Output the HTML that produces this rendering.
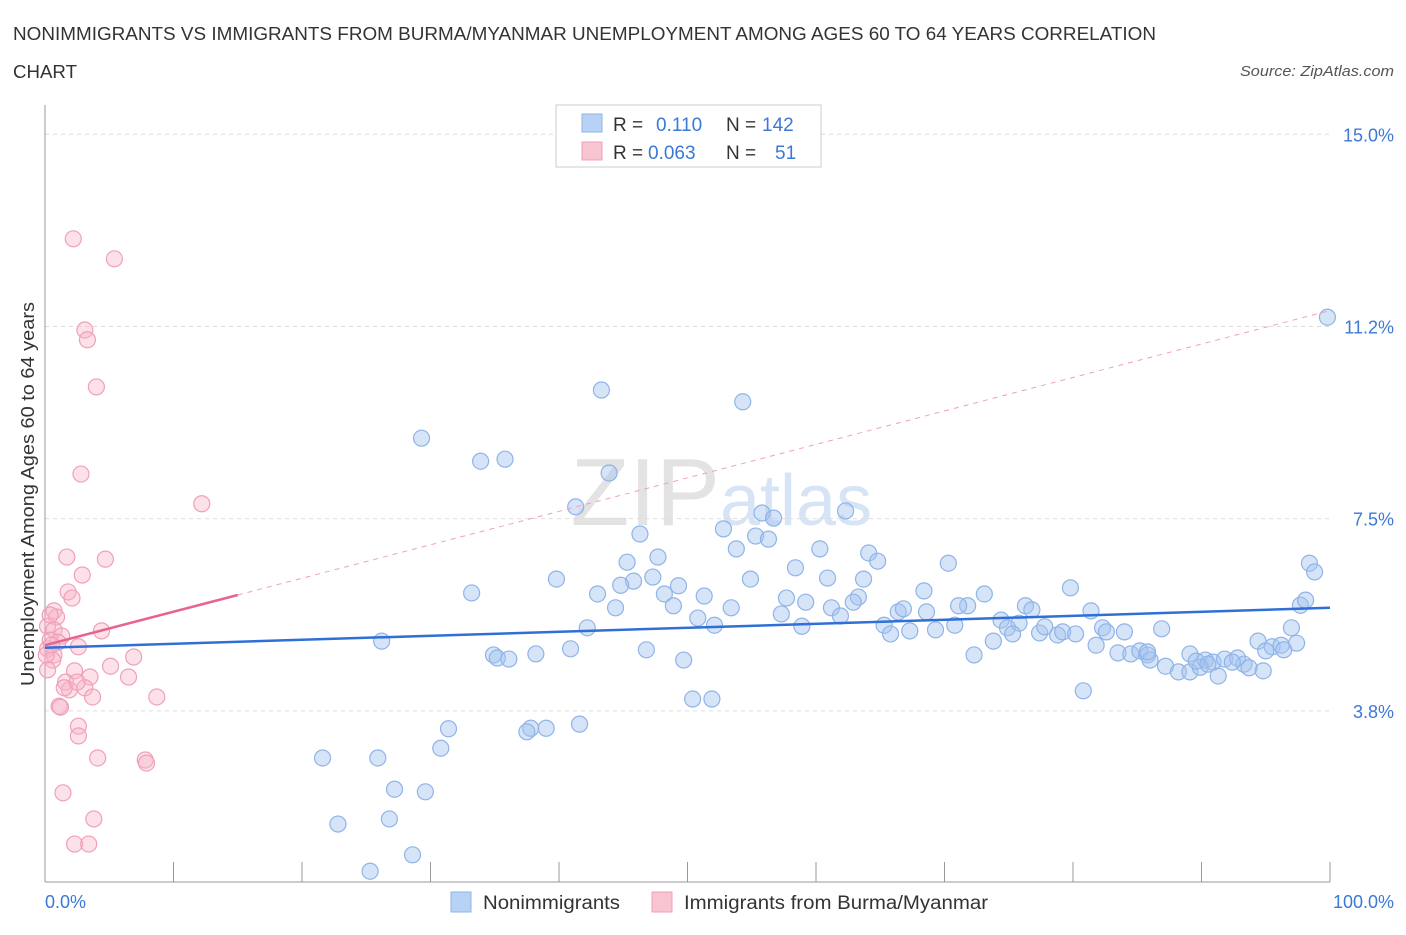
<!DOCTYPE html>
<html><head><meta charset="utf-8"><style>
body{margin:0;background:#fff;font-family:"Liberation Sans",sans-serif;}
svg text{font-family:"Liberation Sans",sans-serif;}
</style></head><body>
<svg width="1406" height="930" viewBox="0 0 1406 930">
<text x="13" y="40" font-size="18" fill="#333" textLength="1143" lengthAdjust="spacingAndGlyphs">NONIMMIGRANTS VS IMMIGRANTS FROM BURMA/MYANMAR UNEMPLOYMENT AMONG AGES 60 TO 64 YEARS CORRELATION</text>
<text x="13" y="78" font-size="18" fill="#333" textLength="64" lengthAdjust="spacingAndGlyphs">CHART</text>
<text x="1394" y="76" font-size="15" fill="#555" font-style="italic" text-anchor="end" textLength="154" lengthAdjust="spacingAndGlyphs">Source: ZipAtlas.com</text>
<text x="720" y="525" font-size="96" fill="#e3e3e3" text-anchor="end" font-family="Liberation Serif">ZIP</text>
<text x="720" y="525" font-size="72" fill="#d6e4f5">atlas</text>
<g id="grid"></g>
<g id="axes"></g>
<g id="marks"></g>
<text transform="translate(34,494) rotate(-90)" font-size="18" fill="#333" text-anchor="middle" textLength="384" lengthAdjust="spacingAndGlyphs">Unemployment Among Ages 60 to 64 years</text>
<text x="45" y="908" font-size="18" fill="#3b78d8">0.0%</text>
<text x="1394" y="908" font-size="18" fill="#3b78d8" text-anchor="end">100.0%</text>
<g>
<rect x="556" y="105" width="265" height="62" fill="#fff" stroke="#ccc"/>
<rect x="582" y="114" width="20" height="18" fill="#b8d2f5" stroke="#8fb4e8"/>
<text x="613" y="131" font-size="19" fill="#333">R =</text>
<text x="656" y="131" font-size="19" fill="#3b78d8">0.110</text>
<text x="726" y="131" font-size="19" fill="#333">N =</text>
<text x="762" y="131" font-size="19" fill="#3b78d8">142</text>
<rect x="582" y="142" width="20" height="18" fill="#f8c4d2" stroke="#f0a0b8"/>
<text x="613" y="159" font-size="19" fill="#333">R =</text>
<text x="648" y="159" font-size="19" fill="#3b78d8">0.063</text>
<text x="726" y="159" font-size="19" fill="#333">N =</text>
<text x="775" y="159" font-size="19" fill="#3b78d8">51</text>
</g>
<g>
<rect x="451" y="892" width="20" height="20" fill="#b8d2f5" stroke="#8fb4e8"/>
<text x="483" y="909" font-size="19" fill="#333" textLength="137" lengthAdjust="spacingAndGlyphs">Nonimmigrants</text>
<rect x="652" y="892" width="20" height="20" fill="#f8c4d2" stroke="#f0a0b8"/>
<text x="684" y="909" font-size="19" fill="#333" textLength="304" lengthAdjust="spacingAndGlyphs">Immigrants from Burma/Myanmar</text>
</g>
</svg>
<script>
const blueX=[99.8,43.3,54.3,29.3,33.9,35.8,43.9,41.3,55.8,56.7,62.3,52.8,46.3,55.3,56.3,53.8,47.7,45.3,60.3,64.1,64.8,70.3,58.4,39.8,45.8,47.3,54.9,60.9,63.7,49.3,44.8,33.2,43.0,48.2,51.3,57.7,63.3,68.4,73.1,79.8,98.4,98.8,48.9,44.4,53.4,59.2,61.2,62.9,66.4,66.8,68.6,71.8,71.1,76.3,76.8,81.4,97.7,98.1,50.8,57.3,61.9,65.3,65.8,67.3,69.3,70.8,74.4,74.9,75.8,42.2,52.1,58.9,77.4,77.8,78.8,79.2,80.2,82.3,82.6,84.0,86.9,97.0,26.2,73.8,75.3,81.8,94.4,95.5,96.2,97.4,96.4,95.0,40.9,46.8,34.9,35.2,36.1,38.2,49.7,72.3,83.5,84.5,85.2,85.8,89.1,90.3,90.9,91.8,92.8,86.0,87.2,88.2,89.1,89.9,91.3,93.3,93.7,94.8,80.8,50.4,51.9,31.4,37.8,39.0,37.5,41.6,30.8,21.6,25.9,27.2,29.6,22.8,26.8,28.6,25.3,85.8,89.6,90.5,92.4];
const blueY=[11.43,10.01,9.78,9.07,8.62,8.66,8.39,7.73,7.61,7.51,7.65,7.30,7.20,7.16,7.10,6.91,6.75,6.65,6.91,6.83,6.67,6.63,6.54,6.32,6.28,6.36,6.32,6.34,6.32,6.19,6.20,6.05,6.03,6.03,5.99,5.95,5.97,6.09,6.03,6.15,6.63,6.46,5.80,5.76,5.76,5.87,5.76,5.87,5.68,5.74,5.68,5.80,5.80,5.80,5.72,5.70,5.81,5.91,5.56,5.64,5.60,5.42,5.25,5.31,5.33,5.42,5.52,5.37,5.46,5.37,5.42,5.40,5.27,5.39,5.23,5.29,5.25,5.37,5.29,5.29,5.35,5.37,5.11,5.11,5.25,5.03,5.11,5.00,5.03,5.07,4.94,4.92,4.96,4.94,4.84,4.78,4.76,4.86,4.74,4.84,4.88,4.86,4.92,4.84,4.86,4.74,4.70,4.76,4.78,4.74,4.62,4.51,4.51,4.60,4.43,4.66,4.59,4.53,4.14,3.98,3.98,3.40,3.41,3.41,3.34,3.49,3.02,2.83,2.83,2.22,2.17,1.54,1.64,0.94,0.62,4.90,4.72,4.66,4.70];
const pinkX=[2.2,5.4,3.1,3.3,4.0,2.8,12.2,1.7,4.7,2.9,1.8,2.1,0.7,0.9,0.2,0.7,1.3,4.4,0.4,1.0,0.2,2.6,0.7,0.6,6.9,5.1,0.2,2.3,3.5,6.5,1.6,1.9,1.5,3.1,2.5,3.7,8.7,1.1,1.2,2.6,2.6,4.1,7.8,7.9,1.4,3.8,2.3,3.4,0.4,0.5,0.1];
const pinkY=[12.96,12.57,11.18,10.99,10.07,8.37,7.79,6.75,6.71,6.40,6.07,5.95,5.70,5.58,5.40,5.33,5.21,5.31,5.13,5.09,4.96,5.00,4.84,4.74,4.80,4.62,4.55,4.53,4.41,4.41,4.31,4.16,4.20,4.20,4.31,4.02,4.02,3.84,3.82,3.45,3.26,2.83,2.79,2.73,2.15,1.64,1.15,1.15,5.62,5.03,4.84];
const yTicks=[3.75,7.5,11.25,15];
const yTickLabels=["3.8%","7.5%","11.2%","15.0%"];
const xTicks=[0,10,20,30,40,50,60,70,80,90,100];
const blueTrend=[4.98,5.76];
const pinkTrend=[5.03,6.01,11.56];
const NS="http://www.w3.org/2000/svg";
const sx=v=>45+v*12.85;
const sy=v=>903-v*51.25;
function mk(tag,attrs,parent){const e=document.createElementNS(NS,tag);for(const k in attrs)e.setAttribute(k,attrs[k]);document.getElementById(parent).appendChild(e);return e;}
yTicks.forEach((t,i)=>{
 const l=mk('line',{x1:45,x2:1330,y1:sy(t),y2:sy(t),stroke:'#ddd','stroke-dasharray':'4,4'},'grid');
 
 
 const tx=mk('text',{x:1394,y:sy(t)+7,'font-size':18,fill:'#3b78d8','text-anchor':'end'},'grid');
 tx.textContent=yTickLabels[i];
 
 
});
const ax=mk('line',{x1:45,x2:45,y1:105,y2:882,stroke:'#999'},'axes');


const bx=mk('line',{x1:45,x2:1330,y1:882,y2:882,stroke:'#999'},'axes');


xTicks.forEach(t=>{
 const l=mk('line',{x1:sx(t),x2:sx(t),y1:862,y2:882,stroke:'#999'},'axes');
 
 
});
blueX.forEach((x,i)=>{
 const c=mk('circle',{cx:sx(x),cy:sy(blueY[i]),r:8,fill:'rgba(164,196,240,0.45)',stroke:'#8fb4e8','stroke-width':1.2},'marks');
 
 
});
pinkX.forEach((x,i)=>{
 const c=mk('circle',{cx:sx(x),cy:sy(pinkY[i]),r:8,fill:'rgba(248,180,200,0.4)',stroke:'#f0a0b8','stroke-width':1.2},'marks');
 
 
});
const pd=mk('line',{x1:sx(15),y1:sy(pinkTrend[1]),x2:sx(100),y2:sy(pinkTrend[2]),stroke:'#f0a0b8','stroke-dasharray':'5,5','stroke-width':1},'marks');


const bt=mk('line',{x1:sx(0),y1:sy(blueTrend[0]),x2:sx(100),y2:sy(blueTrend[1]),stroke:'#2f6fd6','stroke-width':2.5},'marks');


const pt=mk('line',{x1:sx(0),y1:sy(pinkTrend[0]),x2:sx(15),y2:sy(pinkTrend[1]),stroke:'#e8648e','stroke-width':2.5},'marks');


</script>
</body></html>
